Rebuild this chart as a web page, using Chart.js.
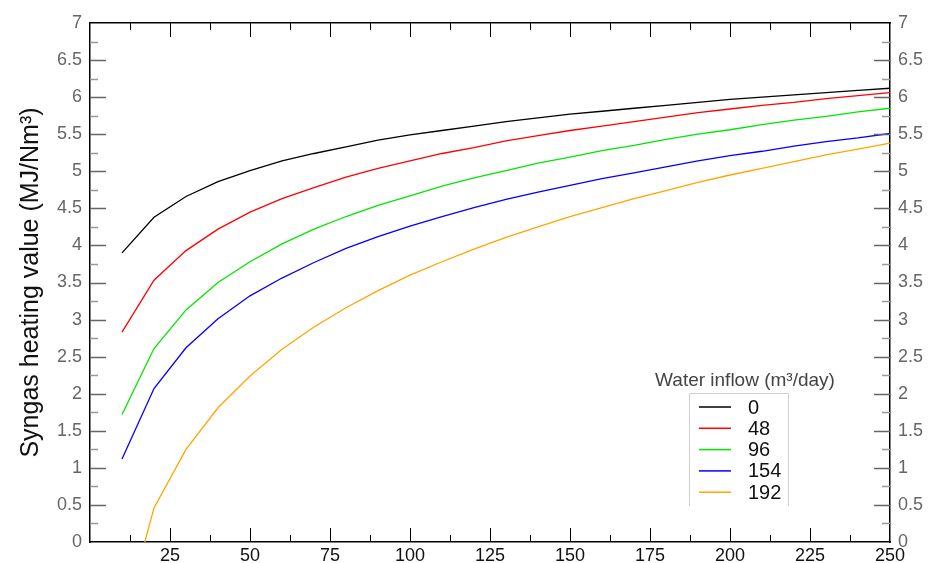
<!DOCTYPE html>
<html>
<head>
<meta charset="utf-8">
<script src="https://cdn.jsdelivr.net/npm/chart.js@4/dist/chart.umd.min.js"></script>
<style>
  html, body { margin: 0; padding: 0; background: #fff; }
  #wrap { width: 929px; height: 563px; position: relative; }
</style>
</head>
<body>
<div id="wrap"><canvas id="c" width="929" height="563"></canvas></div>
<script>
// ---- data ----
const xValues = [10, 20, 30, 40, 50, 60, 70, 80, 90, 100, 110, 120, 130, 140, 150, 160, 170, 180, 190, 200, 210, 220, 230, 240, 250];
const seriesLabels = ['0', '48', '96', '154', '192'];
const inflow0   = [3.90, 4.38, 4.66, 4.86, 5.01, 5.14, 5.24, 5.33, 5.42, 5.49, 5.55, 5.61, 5.67, 5.72, 5.77, 5.81, 5.85, 5.89, 5.93, 5.97, 6.00, 6.03, 6.06, 6.09, 6.12];
const inflow48  = [2.83, 3.53, 3.93, 4.22, 4.45, 4.63, 4.78, 4.92, 5.04, 5.14, 5.24, 5.32, 5.41, 5.48, 5.55, 5.61, 5.67, 5.73, 5.79, 5.84, 5.89, 5.93, 5.98, 6.02, 6.06];
const inflow96  = [1.72, 2.61, 3.13, 3.50, 3.78, 4.02, 4.22, 4.39, 4.54, 4.67, 4.80, 4.91, 5.01, 5.11, 5.19, 5.28, 5.35, 5.43, 5.50, 5.56, 5.63, 5.69, 5.74, 5.80, 5.85];
const inflow154 = [1.12, 2.07, 2.62, 3.01, 3.32, 3.56, 3.77, 3.96, 4.12, 4.26, 4.39, 4.51, 4.62, 4.72, 4.81, 4.90, 4.98, 5.06, 5.14, 5.21, 5.27, 5.34, 5.40, 5.45, 5.51];
const inflow192 = [-1.15, 0.46, 1.25, 1.81, 2.24, 2.60, 2.90, 3.16, 3.39, 3.60, 3.78, 3.95, 4.11, 4.25, 4.39, 4.51, 4.63, 4.74, 4.85, 4.95, 5.04, 5.13, 5.22, 5.30, 5.38];
const seriesColors = ['#000000', '#ff0000', '#00e600', '#0000ff', '#ffa500'];
const xMajorStep = 25, xMinorStep = 12.5;
const yMajorStep = 0.5, yMinorStep = 0.25;
const yTitle = 'Syngas heating value (MJ/Nm³)';
const legendTitle = 'Water inflow (m³/day)';

const allSeries = [inflow0, inflow48, inflow96, inflow154, inflow192];
const datasets = allSeries.map((arr, i) => ({
  label: seriesLabels[i],
  data: xValues.map((x, j) => ({ x: x, y: arr[j] })),
  borderColor: seriesColors[i],
  backgroundColor: seriesColors[i],
  borderWidth: 1.3,
  pointRadius: 0,
  tension: 0,
  fill: false,
  xAxisID: 'x',
  yAxisID: 'y'
}));

const isMult = (v, s) => Math.abs(v / s - Math.round(v / s)) < 1e-6;

const inwardTicks = {
  id: 'inwardTicks',
  afterDatasetsDraw(chart) {
    const { ctx, chartArea: a, scales } = chart;
    ctx.save();
    const xs = scales.x;
    xs.ticks.forEach(t => {
      const v = t.value;
      const px = Math.round(xs.getPixelForValue(v)) + 0.5;
      if (px <= a.left + 1 || px >= a.right - 1) return;
      const major = isMult(v, xMajorStep);
      ctx.strokeStyle = '#000';
      ctx.lineWidth = 1;
      ctx.beginPath();
      ctx.moveTo(px, a.bottom); ctx.lineTo(px, a.bottom - (major ? 14 : 7));
      ctx.moveTo(px, a.top); ctx.lineTo(px, a.top + (major ? 14 : 7));
      ctx.stroke();
    });
    const ys = scales.y;
    ys.ticks.forEach(t => {
      const v = t.value;
      const py = Math.round(ys.getPixelForValue(v)) + 0.5;
      if (py <= a.top + 1 || py >= a.bottom - 1) return;
      const major = isMult(v, yMajorStep);
      ctx.strokeStyle = major ? '#666' : '#999';
      ctx.lineWidth = 1.6;
      ctx.beginPath();
      ctx.moveTo(a.left, py); ctx.lineTo(a.left + (major ? 16 : 8), py);
      ctx.moveTo(a.right, py); ctx.lineTo(a.right - (major ? 16 : 8), py);
      ctx.stroke();
    });
    ctx.restore();
  }
};

const customLegend = {
  id: 'customLegend',
  afterDraw(chart) {
    const { ctx, chartArea: a } = chart;
    const boxL = a.right - 201, boxR = a.right - 102, boxT = 393, boxB = 506;
    ctx.save();
    ctx.font = '19px "Liberation Sans", Arial, sans-serif';
    ctx.fillStyle = '#444';
    ctx.textAlign = 'center';
    ctx.textBaseline = 'middle';
    ctx.fillText(legendTitle, boxL + 56, 381);
    ctx.strokeStyle = '#d0d0d0';
    ctx.lineWidth = 1;
    ctx.beginPath();
    ctx.moveTo(boxL + 0.5, boxB); ctx.lineTo(boxL + 0.5, boxT + 0.5);
    ctx.lineTo(boxR + 0.5, boxT + 0.5); ctx.lineTo(boxR + 0.5, boxB);
    ctx.stroke();
    ctx.textAlign = 'left';
    ctx.font = '20px "Liberation Sans", Arial, sans-serif';
    chart.data.datasets.forEach((ds, i) => {
      const yy = 407 + i * 21.3;
      ctx.strokeStyle = ds.borderColor;
      ctx.lineWidth = 1.5;
      ctx.beginPath();
      ctx.moveTo(boxL + 10, yy); ctx.lineTo(boxL + 42, yy);
      ctx.stroke();
      ctx.fillStyle = '#111';
      ctx.fillText(ds.label, boxL + 59, yy + 1);
    });
    ctx.restore();
  }
};

const tickFont = { family: '"Liberation Sans", Arial, sans-serif', size: 18 };

new Chart(document.getElementById('c'), {
  type: 'line',
  data: { datasets },
  plugins: [inwardTicks, customLegend],
  options: {
    responsive: false,
    animation: false,
    layout: { padding: 0 },
    plugins: { legend: { display: false }, tooltip: { enabled: false } },
    scales: {
      x: {
        type: 'linear', position: 'bottom', min: 0, max: 250,
        grid: { display: false, drawTicks: false },
        border: { display: true, color: '#000', width: 1.5 },
        ticks: {
          stepSize: xMinorStep, autoSkip: false, maxRotation: 0, padding: 3,
          color: '#111', font: tickFont,
          callback: v => (isMult(v, xMajorStep) && v > 0) ? String(v) : ''
        },
        afterFit: s => { s.height = 21; }
      },
      x2: {
        type: 'linear', position: 'top', min: 0, max: 250,
        grid: { display: false, drawTicks: false },
        border: { display: true, color: '#000', width: 1.5 },
        ticks: { display: false },
        afterFit: s => { s.height = 23; }
      },
      y: {
        type: 'linear', position: 'left', min: 0, max: 7,
        grid: { display: false, drawTicks: false },
        border: { display: true, color: '#000', width: 1.5 },
        ticks: {
          stepSize: yMinorStep, autoSkip: false, padding: 8,
          color: '#666', font: tickFont,
          callback: v => isMult(v, yMajorStep) ? String(v) : ''
        },
        title: {
          display: true, text: yTitle, color: '#111',
          font: { family: '"Liberation Sans", Arial, sans-serif', size: 25 },
          padding: { top: 16, bottom: 0 }
        },
        afterFit: s => { s.width = 90; }
      },
      y2: {
        type: 'linear', position: 'right', min: 0, max: 7,
        grid: { display: false, drawTicks: false },
        border: { display: true, color: '#000', width: 1.5 },
        ticks: {
          stepSize: yMinorStep, autoSkip: false, padding: 8,
          color: '#666', font: tickFont,
          callback: v => isMult(v, yMajorStep) ? String(v) : ''
        },
        afterFit: s => { s.width = 39; }
      }
    }
  }
});
</script>
</body>
</html>
